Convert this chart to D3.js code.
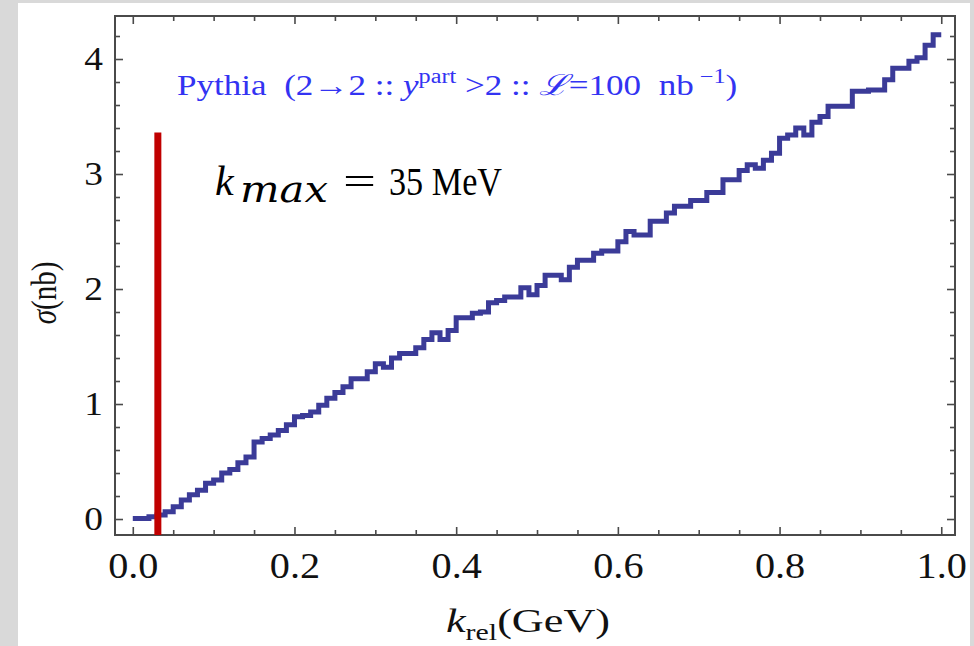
<!DOCTYPE html>
<html><head><meta charset="utf-8">
<script src="https://cdn.jsdelivr.net/npm/d3@7"></script>
<style>
html,body{margin:0;padding:0;background:#d9d9d9;}
svg{display:block;}
text{font-family:"Liberation Serif","Times New Roman",serif;}
</style></head>
<body>
<script>
// ---- data ----
const binStart = 0.0, binWidth = 0.01;
const sigma = [
 0.005,0.005,0.02,0.035,0.064,0.107,0.165,0.21,0.25,0.31,
 0.34,0.40,0.43,0.49,0.54,0.67,0.70,0.73,0.77,0.82,
 0.89,0.90,0.93,0.99,1.05,1.10,1.15,1.22,1.22,1.28,
 1.35,1.32,1.40,1.44,1.44,1.49,1.56,1.62,1.56,1.64,
 1.75,1.75,1.79,1.80,1.88,1.90,1.93,1.93,2.01,1.95,
 2.03,2.12,2.12,2.08,2.19,2.25,2.25,2.31,2.33,2.33,
 2.41,2.50,2.47,2.47,2.59,2.59,2.66,2.72,2.72,2.77,
 2.77,2.84,2.84,2.95,2.95,3.03,3.08,3.05,3.12,3.18,
 3.31,3.34,3.40,3.34,3.45,3.50,3.59,3.59,3.59,3.72,
 3.72,3.73,3.73,3.82,3.92,3.92,3.98,4.01,4.12,4.21
];
const xMajor = [0.0,0.2,0.4,0.6,0.8,1.0];
const xMajorLabels = ["0.0","0.2","0.4","0.6","0.8","1.0"];
const xMinor = d3.range(0,1.0001,0.05).filter(v=>Math.abs(Math.round(v*5)-v*5)>1e-6);
const yMajor = [0,1,2,3,4];
const yMajorLabels = ["0","1","2","3","4"];
const yMinor = d3.range(-0.0,4.3001,0.2).filter(v=>Math.abs(Math.round(v)-v)>1e-6);
const kmaxX = 0.031, kmaxTop = 3.36;

// ---- layout ----
const W=974,H=646;
const svg=d3.select("body").append("svg").attr("width",W).attr("height",H);
svg.append("rect").attr("x",18).attr("y",3).attr("width",952).attr("height",H-3).attr("fill","#fff");

const x=d3.scaleLinear().domain([-0.022,1.017]).range([115,955]);
const y=d3.scaleLinear().domain([-0.139,4.374]).range([535,16]);
const [L,R]=x.range(), [B,T]=y.range();

// histogram step line
const pts=[];
sigma.forEach((v,i)=>{const a=binStart+i*binWidth;pts.push([a,v]);pts.push([a+binWidth,v]);});
svg.append("path").attr("d",d3.line().x(d=>x(d[0])).y(d=>y(d[1]))(pts))
  .attr("fill","none").attr("stroke","#3b3b98").attr("stroke-width",5).attr("stroke-linejoin","miter");

// axes
const axCol="#4a4a4a";
function styleAxis(g){g.select(".domain").remove();g.selectAll("line").attr("stroke",axCol).attr("stroke-width",1.6);}
svg.append("g").attr("transform",`translate(0,${B})`).call(d3.axisBottom(x).tickValues(xMajor).tickSize(-8).tickPadding(18).tickFormat((d,i)=>xMajorLabels[i])).call(styleAxis)
  .selectAll("text").attr("font-size",35).attr("fill","#111").attr("transform","scale(1.15,1)");
svg.append("g").attr("transform",`translate(0,${B})`).call(d3.axisBottom(x).tickValues(xMinor).tickSize(-5).tickFormat("")).call(styleAxis);
svg.append("g").attr("transform",`translate(0,${T})`).call(d3.axisTop(x).tickValues(xMajor).tickSize(-8).tickFormat("")).call(styleAxis);
svg.append("g").attr("transform",`translate(0,${T})`).call(d3.axisTop(x).tickValues(xMinor).tickSize(-5).tickFormat("")).call(styleAxis);
svg.append("g").attr("transform",`translate(${L},0)`).call(d3.axisLeft(y).tickValues(yMajor).tickSize(-8).tickPadding(11).tickFormat((d,i)=>yMajorLabels[i])).call(styleAxis)
  .selectAll("text").attr("font-size",34).attr("fill","#111").attr("transform","scale(1.1,1)");
svg.append("g").attr("transform",`translate(${L},0)`).call(d3.axisLeft(y).tickValues(yMinor).tickSize(-5).tickFormat("")).call(styleAxis);
svg.append("g").attr("transform",`translate(${R},0)`).call(d3.axisRight(y).tickValues(yMajor).tickSize(-8).tickFormat("")).call(styleAxis);
svg.append("g").attr("transform",`translate(${R},0)`).call(d3.axisRight(y).tickValues(yMinor).tickSize(-5).tickFormat("")).call(styleAxis);
svg.append("rect").attr("x",L).attr("y",T).attr("width",R-L).attr("height",B-T).attr("fill","none").attr("stroke",axCol).attr("stroke-width",2);

// red kmax line
svg.append("line").attr("x1",x(kmaxX)).attr("x2",x(kmaxX)).attr("y1",y(kmaxTop)).attr("y2",B)
  .attr("stroke","#c00000").attr("stroke-width",7);

// title
const t=svg.append("text").attr("transform","translate(177,95) scale(1.21,1)").attr("font-size",29).attr("fill","#3333f2").style("white-space","pre");
t.append("tspan").text("Pythia  (2\u21922 :: ");
t.append("tspan").attr("font-style","italic").text("y");
t.append("tspan").attr("font-size",20).attr("dy",-12).text("part");
t.append("tspan").attr("dy",12).text(" >2 :: ");
t.append("tspan").attr("font-style","italic").text("\u2112");
t.append("tspan").text("=100  nb");
t.append("tspan").attr("font-size",20).attr("dy",-12).text(" \u22121");
t.append("tspan").attr("dy",12).text(")");

// kmax label
svg.append("text").attr("x",215).attr("y",195).attr("font-size",42).attr("font-style","italic").attr("fill","#000").text("k");
svg.append("text").attr("x",240).attr("y",202).attr("font-size",35).attr("font-style","italic").attr("fill","#000")
  .style("font-family","'DejaVu Serif',serif")
  .attr("textLength",88).attr("lengthAdjust","spacingAndGlyphs").text("max");
svg.append("text").attr("x",343).attr("y",195).attr("font-size",40).attr("fill","#000")
  .attr("textLength",33).attr("lengthAdjust","spacingAndGlyphs").text("=");
svg.append("text").attr("x",389).attr("y",195).attr("font-size",40).attr("fill","#000")
  .attr("textLength",113).attr("lengthAdjust","spacingAndGlyphs").style("white-space","pre").text("35 MeV");

// y label
const yl=svg.append("text").attr("transform","translate(56,293) rotate(-90) scale(1,1.2)").attr("text-anchor","middle").attr("font-size",29).attr("fill","#111");
yl.append("tspan").attr("font-style","italic").text("\u03C3");
yl.append("tspan").text("(nb)");

// x label
const xl=svg.append("text").attr("transform","translate(528,632) scale(1.3,1)").attr("text-anchor","middle").attr("font-size",34).attr("fill","#111");
xl.append("tspan").attr("font-style","italic").text("k");
xl.append("tspan").attr("font-size",23).attr("dy",8).text("rel");
xl.append("tspan").attr("dy",-8).text("(GeV)");
</script>
</body></html>
